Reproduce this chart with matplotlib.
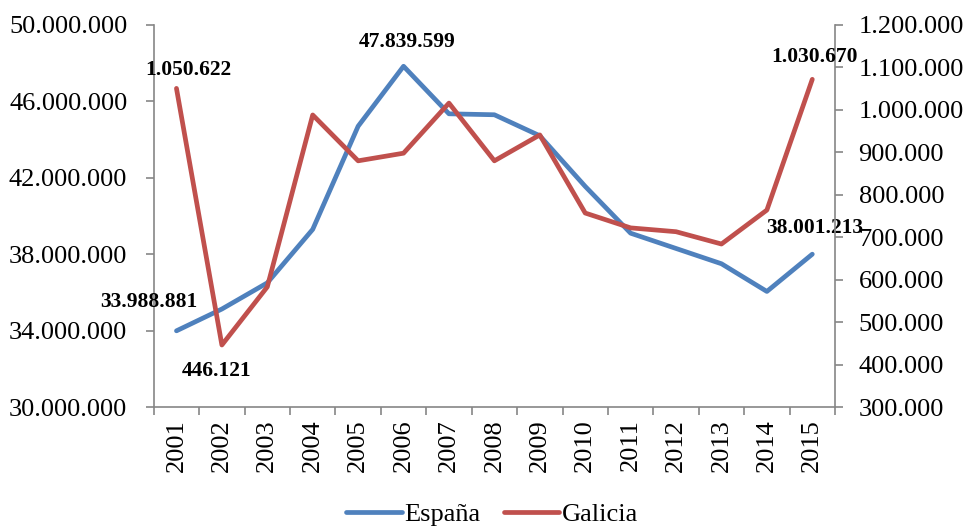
import matplotlib
matplotlib.use("Agg")
import matplotlib.pyplot as plt
from matplotlib.ticker import FuncFormatter, FixedLocator

years = ["2001", "2002", "2003", "2004", "2005", "2006", "2007", "2008",
         "2009", "2010", "2011", "2012", "2013", "2014", "2015"]
espana = [33988881, 35130000, 36500000, 39300000, 44700000, 47839599, 45350000,
          45300000, 44200000, 41550000, 39100000, 38300000, 37500000, 36050000, 38001213]
galicia = [1050622, 446121, 583000, 988000, 880000, 898000, 1016000, 880000,
           941000, 757000, 722000, 713000, 684000, 764000, 1072000]

label_espana = {0: "33.988.881", 5: "47.839.599", 14: "38.001.213"}
label_galicia = {0: "1.050.622", 1: "446.121", 14: "1.030.670"}

plt.rcParams['font.family'] = ['Liberation Serif', 'DejaVu Serif']

BLUE = "#4F81BD"
RED = "#C0504D"
GRAY = "#868686"

fig = plt.figure(figsize=(9.67, 5.26), dpi=100)
ax = fig.add_axes([0.159, 0.2262, 0.7045, 0.7263])
ax2 = ax.twinx()

x = list(range(len(years)))
l1, = ax.plot(x, espana, color=BLUE, lw=3.4, solid_capstyle='round', solid_joinstyle='round', label="España")
l2, = ax2.plot(x, galicia, color=RED, lw=3.4, solid_capstyle='round', solid_joinstyle='round', label="Galicia")

ax.set_xlim(-0.5, len(years) - 0.5)
ax.set_ylim(30000000, 50000000)
ax2.set_ylim(300000, 1200000)
ax.set_yticks(range(30000000, 50000001, 4000000))
ax2.set_yticks(range(300000, 1200001, 100000))

def dotfmt(v, pos):
    return f"{int(round(v)):,}".replace(",", ".")

ax.yaxis.set_major_formatter(FuncFormatter(dotfmt))
ax2.yaxis.set_major_formatter(FuncFormatter(dotfmt))

ax.set_xticks(x)
ax.set_xticklabels(years, rotation=90)
ax.xaxis.set_minor_locator(FixedLocator([i - 0.5 for i in range(len(years) + 1)]))
ax.tick_params(axis='x', which='major', length=0, pad=9, labelsize=19)
ax.tick_params(axis='x', which='minor', length=6, width=1.2, color=GRAY, direction='out')
ax.tick_params(axis='y', length=6, width=1.2, color=GRAY, pad=13, labelsize=19)
ax2.tick_params(axis='y', length=6, width=1.2, color=GRAY, pad=11, labelsize=19)

for a in (ax, ax2):
    for s in a.spines.values():
        s.set_visible(False)
ax.spines['left'].set_visible(True)
ax.spines['bottom'].set_visible(True)
ax2.spines['right'].set_visible(True)
for s in (ax.spines['left'], ax.spines['bottom'], ax2.spines['right']):
    s.set_color(GRAY)
    s.set_linewidth(1.2)

offs_e = {0: (-28, 29), 5: (4, 24), 14: (2, 26)}
offs_g = {0: (12, 18), 1: (-5, -26), 14: (2, 22)}
for i, t in label_espana.items():
    ax.annotate(t, (x[i], espana[i]), xytext=offs_e[i], textcoords='offset pixels',
                ha='center', va='center', fontsize=15.5, fontweight='bold')
for i, t in label_galicia.items():
    ax2.annotate(t, (x[i], galicia[i]), xytext=offs_g[i], textcoords='offset pixels',
                 ha='center', va='center', fontsize=15.5, fontweight='bold')

fig.legend(handles=[l1, l2], loc='center', bbox_to_anchor=(0.509, 0.022), ncol=2,
           frameon=False, fontsize=19, handlelength=2.1, handletextpad=0.1,
           columnspacing=0.9, borderpad=0)

fig.savefig("out.png", dpi=100)
